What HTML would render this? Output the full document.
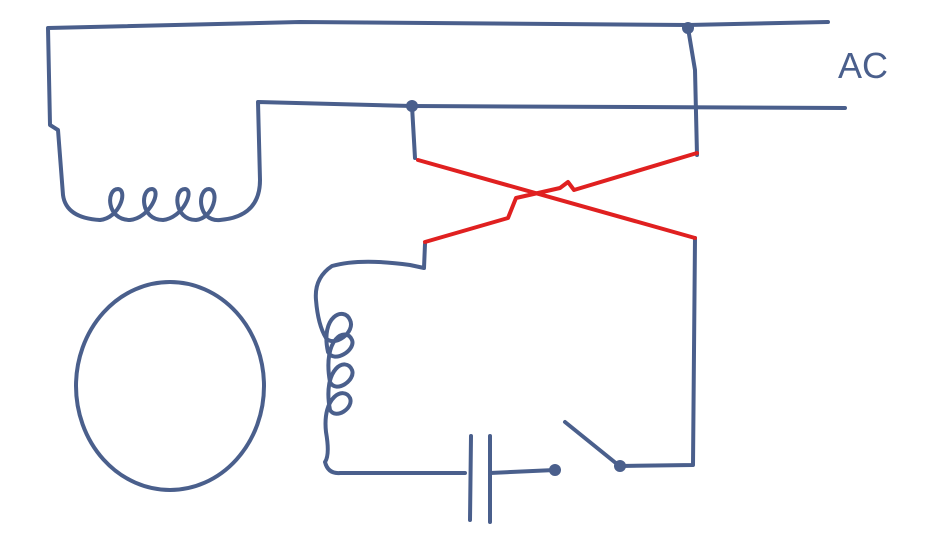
<!DOCTYPE html>
<html><head><meta charset="utf-8"><style>
html,body{margin:0;padding:0;background:#fff;}
svg{display:block}
</style></head><body>
<svg width="950" height="534" viewBox="0 0 950 534">
<rect width="950" height="534" fill="#fff"/>
<g fill="none" stroke="#4a5f8c" stroke-width="4" stroke-linecap="round" stroke-linejoin="round">
 <path d="M828,22 L688,25 L300,22 L48,28 L50,125 L58,130 L63,195 Q66,218 100,220"/>
 <path d="M100,220 C120,218 128,190 118,189 C106,189 106,220 130,220 C150,218 162,190 152,189 C140,189 140,220 163,220 C183,218 195,190 185,189 C173,189 174,220 196,220 C214,218 220,190 209,189 C197,189 197,222 220,220 C246,218 260,205 260,180 L258,102 L412,106 L845,108"/>
 <path d="M688,28 L695,70 L697,155"/>
 <path d="M412,106 L415,158"/>
 <path d="M695,238 L693,465 L620,466"/>
 <path d="M425,244 L424,268 L410,265 Q360,258 332,266 Q314,278 316,300 Q318,325 326,338 C334,348 356,332 350,320 C344,306 320,316 328,352 C334,364 356,350 352,340 C346,326 322,338 330,382 C336,394 356,380 352,370 C346,356 322,368 330,410 C336,420 354,408 350,398 C344,386 322,396 326,432 Q330,455 325,462 Q328,474 340,473 L465,473"/>
 <path d="M471,436 L470,520"/>
 <path d="M490,436 L490,522"/>
 <path d="M490,473 L555,470"/>
 <path d="M565,422 L617,464"/>
 <ellipse cx="170" cy="386" rx="94" ry="104"/>
</g>
<g fill="#4a5f8c">
 <circle cx="688" cy="28" r="6"/>
 <circle cx="412" cy="106" r="6"/>
 <circle cx="555" cy="470" r="6"/>
 <circle cx="620" cy="466" r="6"/>
</g>
<g fill="none" stroke="#e02020" stroke-width="4" stroke-linecap="round" stroke-linejoin="round">
 <path d="M418,160 L695,238"/>
 <path d="M425,242 L508,218 L516,198 L560,188 L568,182 L574,190 L697,153"/>
</g>
<text x="838" y="78" font-family="Liberation Sans, sans-serif" font-size="36" fill="#4a5f8c">AC</text>
</svg>
</body></html>
